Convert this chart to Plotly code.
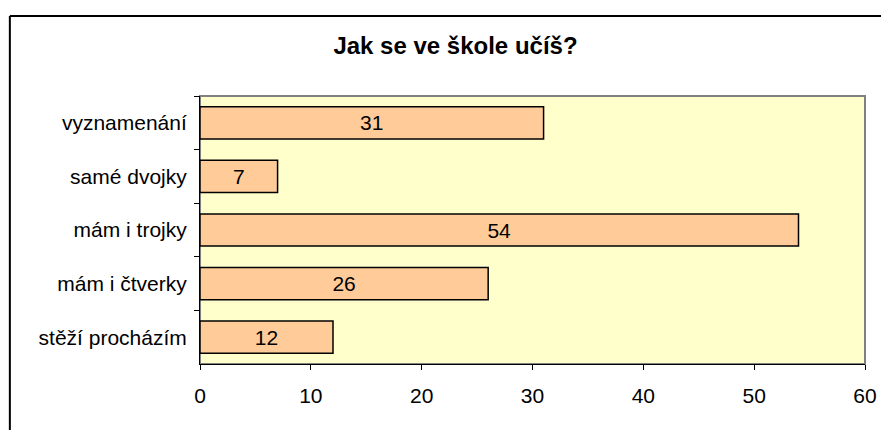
import plotly.graph_objects as go

categories = ["vyznamenání", "samé dvojky", "mám i trojky", "mám i čtverky", "stěží procházím"]
values = [31, 7, 54, 26, 12]
title_text = "Jak se ve škole učíš?"

# the page body adds an 8px offset; size the figure to fill the rest of the window
OFF = 8
W, H = 889 - OFF, 430 - OFF
ml, mr, mt, mb = 200 - OFF, 21, 96 - OFF, 66
pw, ph = W - ml - mr, H - mt - mb

font = "Liberation Sans, Arial, sans-serif"

fig = go.Figure()
fig.add_trace(go.Bar(
    y=categories, x=values, orientation="h",
    marker=dict(color="#FFCC99", line=dict(color="black", width=1.5)),
    width=0.6,
    text=[str(v) for v in values], textposition="inside", insidetextanchor="middle",
    textfont=dict(family=font, size=21, color="black"),
    textangle=0,
    hoverinfo="x+y",
))

fig.update_layout(
    width=W, height=H,
    margin=dict(l=ml, r=mr, t=mt, b=mb),
    paper_bgcolor="white", plot_bgcolor="#FFFFCC",
    showlegend=False,
    title=dict(text="<b>" + title_text + "</b>", x=(455.5 - OFF) / W, xanchor="center",
               y=1 - (46 - OFF) / H, yanchor="middle",
               font=dict(family=font, size=24, color="black")),
    font=dict(family=font, size=21, color="black"),
    uniformtext=dict(minsize=21, mode="show"),
)
fig.update_xaxes(range=[0, 60], dtick=10, ticks="outside", ticklen=5, tickcolor="black",
                 showline=True, linecolor="black", linewidth=1, showgrid=False, zeroline=False,
                 ticklabelstandoff=8,
                 tickfont=dict(family=font, size=21, color="black"))
fig.update_yaxes(categoryorder="array", categoryarray=categories, autorange="reversed",
                 tickson="boundaries", ticks="outside", ticklen=5, tickcolor="black",
                 showline=True, linecolor="black", linewidth=1, showgrid=False,
                 ticklabelstandoff=8,
                 tickfont=dict(family=font, size=21, color="black"))

# grey plot-area border (top/right)
fig.add_shape(type="rect", xref="paper", yref="paper", x0=0, x1=1, y0=0, y1=1,
              line=dict(color="#808080", width=2), layer="below")
# outer chart border (left and top visible)
x_left = (9 - OFF - ml) / pw
y_top = (H - mb - (16 - OFF)) / ph
fig.add_shape(type="line", xref="paper", yref="paper", x0=x_left, x1=x_left, y0=y_top, y1=-1,
              line=dict(color="black", width=2))
fig.add_shape(type="line", xref="paper", yref="paper", x0=x_left, x1=2, y0=y_top, y1=y_top,
              line=dict(color="black", width=2))

fig.write_html("out.html")
